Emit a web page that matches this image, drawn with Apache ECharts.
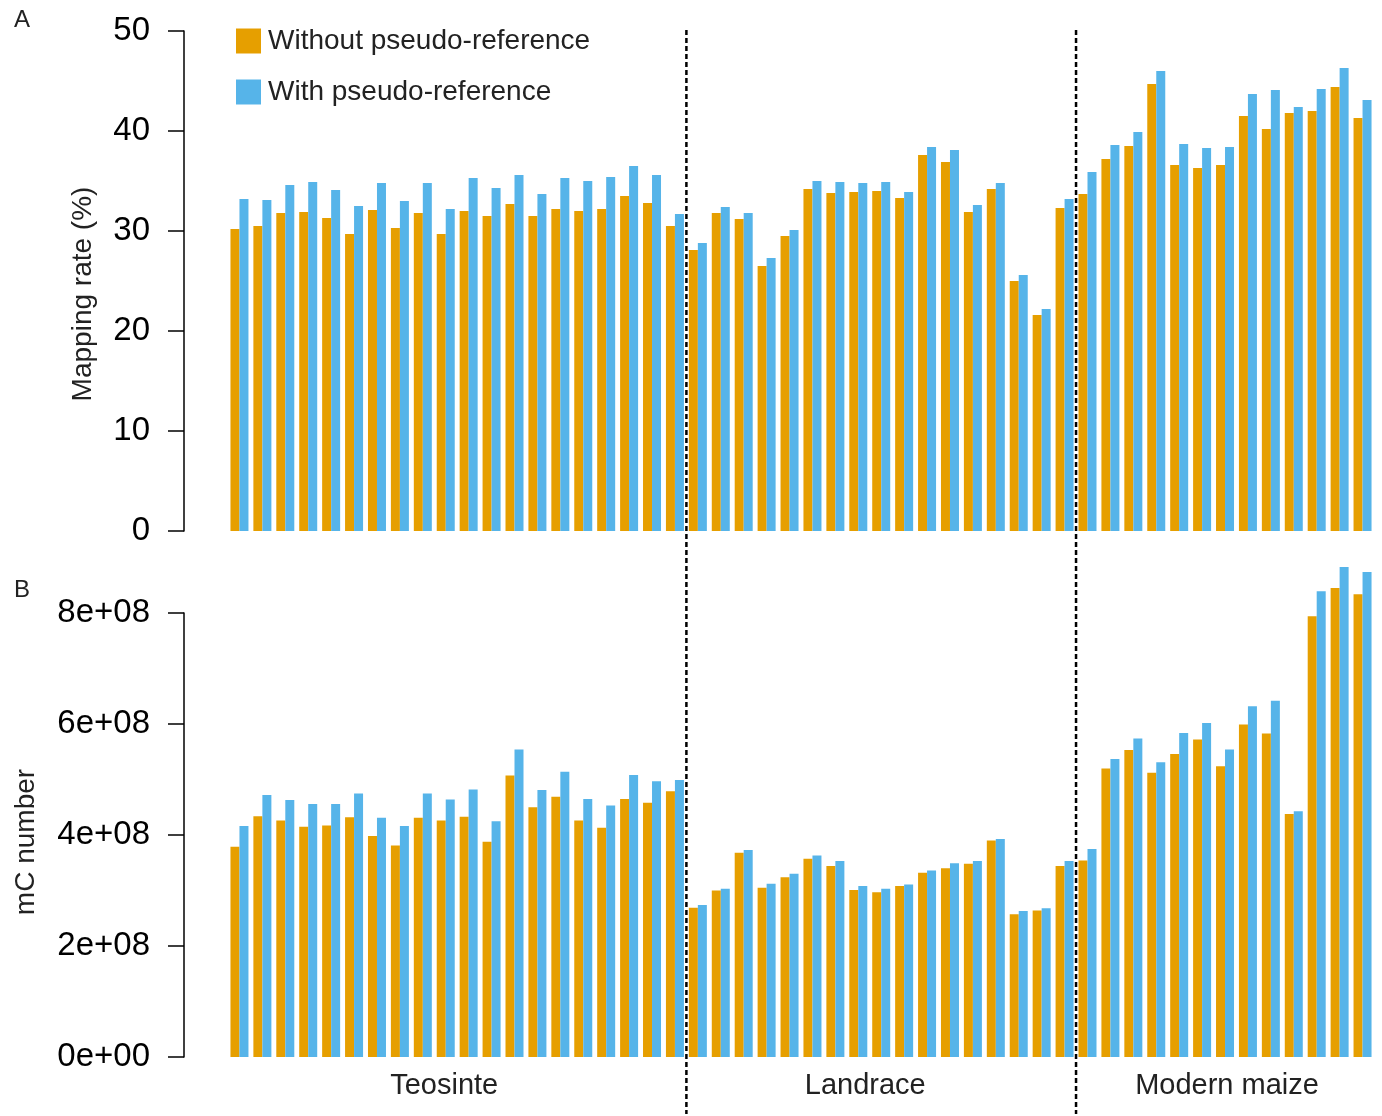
<!DOCTYPE html>
<html>
<head>
<meta charset="utf-8">
<script src="https://cdn.jsdelivr.net/npm/echarts@6/dist/echarts.min.js"></script>
<style>html,body{margin:0;padding:0;background:#fff}#c{width:1382px;height:1116px}</style>
</head>
<body>
<div id="c"></div>
<script>
// Sample groups: 20 teosinte, 17 landrace, 13 modern maize
const groups = ['Teosinte', 'Landrace', 'Modern maize'];
const groupSizes = [20, 17, 13];
const samples = Array.from({length: 50}, (_, i) => 'S' + (i + 1));
const seriesNames = ['Without pseudo-reference', 'With pseudo-reference'];

// Panel A: mapping rate (%)
const mapWithout = [30.2,30.5,31.8,31.9,31.3,29.7,32.1,30.3,31.8,29.7,
  32.0,31.5,32.7,31.5,32.2,32.0,32.2,33.5,32.8,30.5,
  28.1,31.8,31.2,26.5,29.5,34.2,33.8,33.9,34.0,33.3,37.6,36.9,31.9,34.2,25.0,21.6,32.3,
  33.7,37.2,38.5,44.7,36.6,36.3,36.6,41.5,40.2,41.8,42.0,44.4,41.3];
const mapWith = [33.2,33.1,34.6,34.9,34.1,32.5,34.8,33.0,34.8,32.2,
  35.3,34.3,35.6,33.7,35.3,35.0,35.4,36.5,35.6,31.7,
  28.8,32.4,31.8,27.3,30.1,35.0,34.9,34.8,34.9,33.9,38.4,38.1,32.6,34.8,25.6,22.2,33.2,
  35.9,38.6,39.9,46.0,38.7,38.3,38.4,43.7,44.1,42.4,44.2,46.3,43.1];

// Panel B: mC number
const mcWithout = [3.79e8,4.34e8,4.26e8,4.15e8,4.17e8,4.32e8,3.98e8,3.81e8,4.31e8,4.26e8,
  4.33e8,3.88e8,5.07e8,4.50e8,4.69e8,4.26e8,4.13e8,4.65e8,4.58e8,4.79e8,
  2.69e8,3.00e8,3.68e8,3.05e8,3.24e8,3.57e8,3.44e8,3.01e8,2.97e8,3.08e8,3.32e8,3.40e8,3.48e8,3.90e8,2.57e8,2.64e8,3.44e8,
  3.54e8,5.20e8,5.53e8,5.12e8,5.46e8,5.72e8,5.24e8,5.99e8,5.83e8,4.38e8,7.94e8,8.45e8,8.34e8];
const mcWith = [4.16e8,4.72e8,4.63e8,4.56e8,4.56e8,4.75e8,4.31e8,4.16e8,4.75e8,4.64e8,
  4.82e8,4.25e8,5.54e8,4.81e8,5.14e8,4.65e8,4.53e8,5.08e8,4.97e8,4.99e8,
  2.74e8,3.03e8,3.73e8,3.12e8,3.30e8,3.63e8,3.53e8,3.08e8,3.03e8,3.11e8,3.36e8,3.49e8,3.53e8,3.93e8,2.63e8,2.68e8,3.53e8,
  3.75e8,5.37e8,5.74e8,5.31e8,5.84e8,6.02e8,5.54e8,6.32e8,6.42e8,4.43e8,8.39e8,8.83e8,8.74e8];

const ORANGE = '#E69F00', BLUE = '#56B4E9';
const FONT = 'Liberation Sans, Arial, sans-serif';

const chart = echarts.init(document.getElementById('c'), null, {renderer: 'canvas'});

function yAx(gridIndex, max, interval, fmt) {
  return {
    type: 'value', gridIndex, min: 0, max, interval, offset: 44,
    splitLine: {show: false},
    axisLine: {show: true, lineStyle: {color: '#000', width: 1.5}},
    axisTick: {show: true, length: 16, lineStyle: {color: '#000', width: 1.5}},
    axisLabel: {color: '#000', fontSize: 33, fontFamily: FONT, margin: 34, formatter: fmt}
  };
}
function xAx(gridIndex) {
  return {type: 'category', gridIndex, data: samples, boundaryGap: true,
    axisLine: {show: false}, axisTick: {show: false}, axisLabel: {show: false}, splitLine: {show: false}};
}
function bar(name, data, idx, color) {
  return {type: 'bar', name, data, xAxisIndex: idx, yAxisIndex: idx, barWidth: 9, barGap: '0%',
    clip: false, itemStyle: {color}, emphasis: {disabled: true}, animation: false};
}

const option = {
  animation: false,
  backgroundColor: '#fff',
  grid: [
    {left: 228, right: 8, top: 31, height: 500},
    {left: 228, right: 8, top: 613, height: 444}
  ],
  xAxis: [xAx(0), xAx(1)],
  yAxis: [
    yAx(0, 50, 10, v => String(v)),
    yAx(1, 8e8, 2e8, v => v === 0 ? '0e+00' : (v / 1e8) + 'e+08')
  ],
  legend: {
    data: seriesNames, orient: 'vertical', left: 231, top: 22,
    itemWidth: 25, itemHeight: 25, itemGap: 23, icon: 'rect', selectedMode: false,
    textStyle: {fontSize: 28, fontFamily: FONT, color: '#222', padding: [0, 0, 0, 2]}
  },
  series: [
    bar(seriesNames[0], mapWithout, 0, ORANGE),
    bar(seriesNames[1], mapWith, 0, BLUE),
    bar(seriesNames[0], mcWithout, 1, ORANGE),
    bar(seriesNames[1], mcWith, 1, BLUE)
  ]
};
chart.setOption(option);

// Group separators and labels, positioned from the category scale
const x0 = chart.convertToPixel({xAxisIndex: 1}, 0);
const x1 = chart.convertToPixel({xAxisIndex: 1}, 1);
const band = x1 - x0;
const startX = x0 - band / 2;
let acc = 0;
const graphics = [];
const labelX = [];
groupSizes.forEach((n, gi) => {
  const gStart = startX + acc * band;
  const gEnd = startX + (acc + n) * band;
  labelX.push((gStart + gEnd) / 2);
  if (gi < groupSizes.length - 1) {
    graphics.push({type: 'line', shape: {x1: gEnd, y1: 30, x2: gEnd, y2: 1114},
      style: {stroke: '#000', lineWidth: 2.5, lineDash: [5, 3]}, z: 100});
  }
  acc += n;
});
const labelShift = [-13, -16, 2];
groups.forEach((g, i) => {
  graphics.push({type: 'text', x: labelX[i] + labelShift[i], y: 1086,
    style: {text: g, fontSize: 29, fontFamily: FONT, fill: '#222', align: 'center', verticalAlign: 'middle'}});
});
graphics.push({type: 'text', x: 83, y: 294, rotation: Math.PI / 2,
  style: {text: 'Mapping rate (%)', fontSize: 28, fontFamily: FONT, fill: '#222', align: 'center', verticalAlign: 'middle'}});
graphics.push({type: 'text', x: 26, y: 842, rotation: Math.PI / 2,
  style: {text: 'mC number', fontSize: 28, fontFamily: FONT, fill: '#222', align: 'center', verticalAlign: 'middle'}});
graphics.push({type: 'text', x: 22, y: 20,
  style: {text: 'A', fontSize: 24, fontFamily: FONT, fill: '#222', align: 'center', verticalAlign: 'middle'}});
graphics.push({type: 'text', x: 22, y: 590,
  style: {text: 'B', fontSize: 24, fontFamily: FONT, fill: '#222', align: 'center', verticalAlign: 'middle'}});
chart.setOption({graphic: graphics});
</script>
</body>
</html>
